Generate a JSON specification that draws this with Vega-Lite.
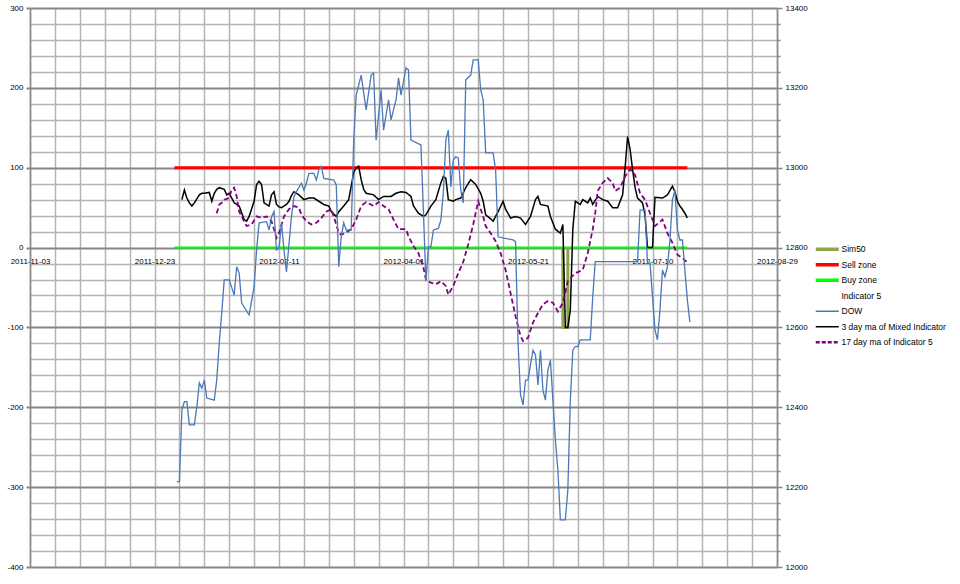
{
  "$schema": "https://vega.github.io/schema/vega-lite/v6.json",
  "width": 747,
  "height": 559,
  "autosize": "none",
  "padding": {"left": 30, "top": 8, "right": 183, "bottom": 17},
  "background": "white",
  "config": {
    "view": {"stroke": null},
    "font": "Liberation Sans",
    "axis": {"labelFont": "Liberation Sans", "labelFontSize": 8, "labelColor": "#000000"}
  },
  "datasets": {
    "zones": [
      {"series": "Sell zone", "date": "2011-12-31", "end": "2012-07-24", "value": 100},
      {"series": "Buy zone", "date": "2011-12-31", "end": "2012-07-24", "value": 0}
    ],
    "sim": [
      {"date": "2012-06-04", "value": 0},
      {"date": "2012-06-04", "value": -100},
      {"date": "2012-06-06", "value": -100},
      {"date": "2012-06-06", "value": 0}
    ],
    "dow": [
      {"date": "2012-01-01", "value": 12214}, {"date": "2012-01-02", "value": 12214}, {"date": "2012-01-03", "value": 12393},
      {"date": "2012-01-04", "value": 12414}, {"date": "2012-01-05", "value": 12414}, {"date": "2012-01-06", "value": 12356},
      {"date": "2012-01-08", "value": 12356}, {"date": "2012-01-09", "value": 12401}, {"date": "2012-01-10", "value": 12461},
      {"date": "2012-01-11", "value": 12448}, {"date": "2012-01-12", "value": 12468}, {"date": "2012-01-13", "value": 12423},
      {"date": "2012-01-16", "value": 12418}, {"date": "2012-01-17", "value": 12468}, {"date": "2012-01-18", "value": 12561},
      {"date": "2012-01-19", "value": 12636}, {"date": "2012-01-20", "value": 12719}, {"date": "2012-01-22", "value": 12719},
      {"date": "2012-01-24", "value": 12681}, {"date": "2012-01-25", "value": 12752}, {"date": "2012-01-26", "value": 12736},
      {"date": "2012-01-27", "value": 12661}, {"date": "2012-01-30", "value": 12631}, {"date": "2012-02-01", "value": 12702},
      {"date": "2012-02-02", "value": 12794}, {"date": "2012-02-03", "value": 12862}, {"date": "2012-02-06", "value": 12865},
      {"date": "2012-02-07", "value": 12844}, {"date": "2012-02-08", "value": 12877}, {"date": "2012-02-09", "value": 12890},
      {"date": "2012-02-10", "value": 12794}, {"date": "2012-02-11", "value": 12799}, {"date": "2012-02-12", "value": 12862},
      {"date": "2012-02-13", "value": 12794}, {"date": "2012-02-14", "value": 12739}, {"date": "2012-02-16", "value": 12877},
      {"date": "2012-02-17", "value": 12927}, {"date": "2012-02-18", "value": 12940}, {"date": "2012-02-20", "value": 12961},
      {"date": "2012-02-21", "value": 12944}, {"date": "2012-02-22", "value": 12961}, {"date": "2012-02-23", "value": 12986},
      {"date": "2012-02-25", "value": 12986}, {"date": "2012-02-26", "value": 12969}, {"date": "2012-02-27", "value": 12995},
      {"date": "2012-02-28", "value": 13003}, {"date": "2012-02-29", "value": 12973}, {"date": "2012-03-04", "value": 12969},
      {"date": "2012-03-05", "value": 12957}, {"date": "2012-03-06", "value": 12752}, {"date": "2012-03-07", "value": 12827},
      {"date": "2012-03-08", "value": 12862}, {"date": "2012-03-09", "value": 12844}, {"date": "2012-03-11", "value": 12844},
      {"date": "2012-03-12", "value": 13069}, {"date": "2012-03-13", "value": 13182}, {"date": "2012-03-15", "value": 13232},
      {"date": "2012-03-17", "value": 13145}, {"date": "2012-03-19", "value": 13232}, {"date": "2012-03-20", "value": 13237},
      {"date": "2012-03-21", "value": 13069}, {"date": "2012-03-23", "value": 13195}, {"date": "2012-03-24", "value": 13094},
      {"date": "2012-03-26", "value": 13170}, {"date": "2012-03-27", "value": 13120}, {"date": "2012-03-29", "value": 13170},
      {"date": "2012-03-30", "value": 13225}, {"date": "2012-03-31", "value": 13182}, {"date": "2012-04-02", "value": 13250},
      {"date": "2012-04-03", "value": 13245}, {"date": "2012-04-04", "value": 13069}, {"date": "2012-04-08", "value": 13057},
      {"date": "2012-04-09", "value": 12890}, {"date": "2012-04-10", "value": 12716}, {"date": "2012-04-11", "value": 12802},
      {"date": "2012-04-12", "value": 12802}, {"date": "2012-04-13", "value": 12844}, {"date": "2012-04-15", "value": 12848},
      {"date": "2012-04-16", "value": 12869}, {"date": "2012-04-17", "value": 12937}, {"date": "2012-04-18", "value": 13069},
      {"date": "2012-04-19", "value": 13094}, {"date": "2012-04-20", "value": 12952}, {"date": "2012-04-21", "value": 13020},
      {"date": "2012-04-22", "value": 13028}, {"date": "2012-04-23", "value": 13024}, {"date": "2012-04-24", "value": 12944},
      {"date": "2012-04-25", "value": 12912}, {"date": "2012-04-26", "value": 13220}, {"date": "2012-04-28", "value": 13232},
      {"date": "2012-04-29", "value": 13270}, {"date": "2012-05-01", "value": 13270}, {"date": "2012-05-02", "value": 13195},
      {"date": "2012-05-03", "value": 13170}, {"date": "2012-05-04", "value": 13037}, {"date": "2012-05-07", "value": 13037},
      {"date": "2012-05-08", "value": 12994}, {"date": "2012-05-09", "value": 12827}, {"date": "2012-05-15", "value": 12819},
      {"date": "2012-05-16", "value": 12815}, {"date": "2012-05-17", "value": 12561}, {"date": "2012-05-18", "value": 12431},
      {"date": "2012-05-19", "value": 12406}, {"date": "2012-05-20", "value": 12468}, {"date": "2012-05-21", "value": 12468},
      {"date": "2012-05-22", "value": 12506}, {"date": "2012-05-23", "value": 12543}, {"date": "2012-05-24", "value": 12531},
      {"date": "2012-05-25", "value": 12456}, {"date": "2012-05-26", "value": 12543}, {"date": "2012-05-27", "value": 12443},
      {"date": "2012-05-28", "value": 12418}, {"date": "2012-05-29", "value": 12493}, {"date": "2012-05-30", "value": 12518},
      {"date": "2012-05-31", "value": 12418}, {"date": "2012-06-01", "value": 12318}, {"date": "2012-06-02", "value": 12243},
      {"date": "2012-06-03", "value": 12118}, {"date": "2012-06-05", "value": 12118}, {"date": "2012-06-06", "value": 12193},
      {"date": "2012-06-07", "value": 12418}, {"date": "2012-06-08", "value": 12543}, {"date": "2012-06-09", "value": 12552},
      {"date": "2012-06-10", "value": 12552}, {"date": "2012-06-11", "value": 12569}, {"date": "2012-06-15", "value": 12569},
      {"date": "2012-06-16", "value": 12677}, {"date": "2012-06-17", "value": 12765}, {"date": "2012-07-04", "value": 12765},
      {"date": "2012-07-05", "value": 12894}, {"date": "2012-07-07", "value": 12894}, {"date": "2012-07-08", "value": 12761},
      {"date": "2012-07-09", "value": 12761}, {"date": "2012-07-10", "value": 12677}, {"date": "2012-07-11", "value": 12594},
      {"date": "2012-07-12", "value": 12569}, {"date": "2012-07-13", "value": 12644}, {"date": "2012-07-14", "value": 12744},
      {"date": "2012-07-15", "value": 12727}, {"date": "2012-07-16", "value": 12752}, {"date": "2012-07-17", "value": 12819},
      {"date": "2012-07-18", "value": 12919}, {"date": "2012-07-19", "value": 12944}, {"date": "2012-07-20", "value": 12844},
      {"date": "2012-07-21", "value": 12819}, {"date": "2012-07-22", "value": 12819}, {"date": "2012-07-23", "value": 12744},
      {"date": "2012-07-24", "value": 12669}, {"date": "2012-07-25", "value": 12614}
    ],
    "mix": [
      {"date": "2012-01-03", "value": 60}, {"date": "2012-01-04", "value": 72}, {"date": "2012-01-05", "value": 62},
      {"date": "2012-01-06", "value": 56}, {"date": "2012-01-07", "value": 52}, {"date": "2012-01-08", "value": 56},
      {"date": "2012-01-09", "value": 61}, {"date": "2012-01-10", "value": 66}, {"date": "2012-01-11", "value": 68},
      {"date": "2012-01-12", "value": 68}, {"date": "2012-01-14", "value": 69}, {"date": "2012-01-15", "value": 58},
      {"date": "2012-01-16", "value": 68}, {"date": "2012-01-17", "value": 73}, {"date": "2012-01-18", "value": 75},
      {"date": "2012-01-20", "value": 73}, {"date": "2012-01-21", "value": 66}, {"date": "2012-01-22", "value": 68},
      {"date": "2012-01-24", "value": 56}, {"date": "2012-01-25", "value": 54}, {"date": "2012-01-26", "value": 52},
      {"date": "2012-01-28", "value": 35}, {"date": "2012-01-29", "value": 33}, {"date": "2012-01-30", "value": 39},
      {"date": "2012-02-01", "value": 58}, {"date": "2012-02-02", "value": 79}, {"date": "2012-02-03", "value": 83},
      {"date": "2012-02-04", "value": 79}, {"date": "2012-02-05", "value": 56}, {"date": "2012-02-07", "value": 52},
      {"date": "2012-02-08", "value": 66}, {"date": "2012-02-09", "value": 70}, {"date": "2012-02-10", "value": 54},
      {"date": "2012-02-11", "value": 51}, {"date": "2012-02-12", "value": 50}, {"date": "2012-02-14", "value": 54},
      {"date": "2012-02-15", "value": 58}, {"date": "2012-02-16", "value": 65}, {"date": "2012-02-17", "value": 70},
      {"date": "2012-02-19", "value": 66}, {"date": "2012-02-21", "value": 60}, {"date": "2012-02-23", "value": 62},
      {"date": "2012-02-25", "value": 62}, {"date": "2012-02-27", "value": 58}, {"date": "2012-02-29", "value": 54},
      {"date": "2012-03-02", "value": 52}, {"date": "2012-03-03", "value": 45}, {"date": "2012-03-05", "value": 39},
      {"date": "2012-03-06", "value": 45}, {"date": "2012-03-08", "value": 52}, {"date": "2012-03-10", "value": 60},
      {"date": "2012-03-11", "value": 77}, {"date": "2012-03-12", "value": 94}, {"date": "2012-03-13", "value": 100},
      {"date": "2012-03-14", "value": 102}, {"date": "2012-03-15", "value": 85}, {"date": "2012-03-16", "value": 73},
      {"date": "2012-03-17", "value": 68}, {"date": "2012-03-20", "value": 66}, {"date": "2012-03-22", "value": 60},
      {"date": "2012-03-24", "value": 64}, {"date": "2012-03-27", "value": 64}, {"date": "2012-03-29", "value": 68},
      {"date": "2012-03-31", "value": 70}, {"date": "2012-04-02", "value": 69}, {"date": "2012-04-04", "value": 64},
      {"date": "2012-04-05", "value": 52}, {"date": "2012-04-07", "value": 43}, {"date": "2012-04-09", "value": 39},
      {"date": "2012-04-10", "value": 41}, {"date": "2012-04-12", "value": 52}, {"date": "2012-04-14", "value": 60},
      {"date": "2012-04-16", "value": 81}, {"date": "2012-04-17", "value": 89}, {"date": "2012-04-18", "value": 87},
      {"date": "2012-04-19", "value": 60}, {"date": "2012-04-21", "value": 58}, {"date": "2012-04-22", "value": 60},
      {"date": "2012-04-24", "value": 62}, {"date": "2012-04-26", "value": 75}, {"date": "2012-04-28", "value": 85},
      {"date": "2012-04-30", "value": 79}, {"date": "2012-05-02", "value": 68}, {"date": "2012-05-03", "value": 58},
      {"date": "2012-05-04", "value": 41}, {"date": "2012-05-06", "value": 36}, {"date": "2012-05-07", "value": 33},
      {"date": "2012-05-09", "value": 45}, {"date": "2012-05-11", "value": 58}, {"date": "2012-05-12", "value": 48},
      {"date": "2012-05-14", "value": 37}, {"date": "2012-05-16", "value": 39}, {"date": "2012-05-18", "value": 37},
      {"date": "2012-05-20", "value": 29}, {"date": "2012-05-22", "value": 39}, {"date": "2012-05-24", "value": 60},
      {"date": "2012-05-25", "value": 64}, {"date": "2012-05-26", "value": 54}, {"date": "2012-05-29", "value": 52},
      {"date": "2012-05-30", "value": 39}, {"date": "2012-06-01", "value": 23}, {"date": "2012-06-03", "value": 18},
      {"date": "2012-06-04", "value": 29}, {"date": "2012-06-05", "value": -100}, {"date": "2012-06-06", "value": -100},
      {"date": "2012-06-07", "value": -78}, {"date": "2012-06-08", "value": 23}, {"date": "2012-06-09", "value": 58},
      {"date": "2012-06-11", "value": 54}, {"date": "2012-06-12", "value": 60}, {"date": "2012-06-14", "value": 56},
      {"date": "2012-06-15", "value": 62}, {"date": "2012-06-16", "value": 54}, {"date": "2012-06-18", "value": 64},
      {"date": "2012-06-20", "value": 60}, {"date": "2012-06-22", "value": 58}, {"date": "2012-06-24", "value": 50},
      {"date": "2012-06-26", "value": 50}, {"date": "2012-06-28", "value": 66}, {"date": "2012-06-29", "value": 100},
      {"date": "2012-06-30", "value": 139}, {"date": "2012-07-01", "value": 123}, {"date": "2012-07-02", "value": 98},
      {"date": "2012-07-03", "value": 75}, {"date": "2012-07-04", "value": 62}, {"date": "2012-07-06", "value": 56},
      {"date": "2012-07-07", "value": 41}, {"date": "2012-07-08", "value": 0}, {"date": "2012-07-10", "value": 0},
      {"date": "2012-07-11", "value": 63}, {"date": "2012-07-14", "value": 62}, {"date": "2012-07-16", "value": 66},
      {"date": "2012-07-18", "value": 77}, {"date": "2012-07-19", "value": 70}, {"date": "2012-07-20", "value": 58},
      {"date": "2012-07-21", "value": 52}, {"date": "2012-07-22", "value": 48}, {"date": "2012-07-23", "value": 43},
      {"date": "2012-07-24", "value": 37}
    ],
    "ma17": [
      {"date": "2012-01-17", "value": 43}, {"date": "2012-01-18", "value": 54}, {"date": "2012-01-19", "value": 56},
      {"date": "2012-01-20", "value": 60}, {"date": "2012-01-22", "value": 62}, {"date": "2012-01-23", "value": 73},
      {"date": "2012-01-24", "value": 75}, {"date": "2012-01-25", "value": 64}, {"date": "2012-01-26", "value": 45},
      {"date": "2012-01-28", "value": 33}, {"date": "2012-01-29", "value": 27}, {"date": "2012-01-31", "value": 29},
      {"date": "2012-02-02", "value": 39}, {"date": "2012-02-04", "value": 37}, {"date": "2012-02-06", "value": 39},
      {"date": "2012-02-08", "value": 33}, {"date": "2012-02-09", "value": 23}, {"date": "2012-02-10", "value": 12},
      {"date": "2012-02-11", "value": 18}, {"date": "2012-02-13", "value": 39}, {"date": "2012-02-15", "value": 48},
      {"date": "2012-02-17", "value": 52}, {"date": "2012-02-19", "value": 50}, {"date": "2012-02-20", "value": 41},
      {"date": "2012-02-22", "value": 33}, {"date": "2012-02-24", "value": 29}, {"date": "2012-02-26", "value": 31},
      {"date": "2012-02-28", "value": 37}, {"date": "2012-03-01", "value": 45}, {"date": "2012-03-03", "value": 48},
      {"date": "2012-03-05", "value": 29}, {"date": "2012-03-06", "value": 18}, {"date": "2012-03-07", "value": 16},
      {"date": "2012-03-09", "value": 19}, {"date": "2012-03-11", "value": 23}, {"date": "2012-03-13", "value": 35},
      {"date": "2012-03-15", "value": 52}, {"date": "2012-03-17", "value": 57}, {"date": "2012-03-20", "value": 52},
      {"date": "2012-03-22", "value": 57}, {"date": "2012-03-24", "value": 52}, {"date": "2012-03-26", "value": 48},
      {"date": "2012-03-28", "value": 35}, {"date": "2012-03-30", "value": 23}, {"date": "2012-04-02", "value": 23},
      {"date": "2012-04-03", "value": 14}, {"date": "2012-04-05", "value": 2}, {"date": "2012-04-07", "value": -7},
      {"date": "2012-04-09", "value": -25}, {"date": "2012-04-10", "value": -40}, {"date": "2012-04-12", "value": -44},
      {"date": "2012-04-14", "value": -46}, {"date": "2012-04-16", "value": -42}, {"date": "2012-04-18", "value": -48},
      {"date": "2012-04-19", "value": -59}, {"date": "2012-04-21", "value": -48}, {"date": "2012-04-23", "value": -32},
      {"date": "2012-04-25", "value": -18}, {"date": "2012-04-27", "value": 4}, {"date": "2012-04-29", "value": 29},
      {"date": "2012-05-01", "value": 58}, {"date": "2012-05-02", "value": 48}, {"date": "2012-05-03", "value": 39},
      {"date": "2012-05-04", "value": 27}, {"date": "2012-05-06", "value": 18}, {"date": "2012-05-08", "value": 8},
      {"date": "2012-05-10", "value": -7}, {"date": "2012-05-12", "value": -28}, {"date": "2012-05-14", "value": -57},
      {"date": "2012-05-16", "value": -86}, {"date": "2012-05-18", "value": -111}, {"date": "2012-05-19", "value": -117},
      {"date": "2012-05-21", "value": -113}, {"date": "2012-05-23", "value": -94}, {"date": "2012-05-25", "value": -82},
      {"date": "2012-05-27", "value": -71}, {"date": "2012-05-29", "value": -67}, {"date": "2012-05-31", "value": -69},
      {"date": "2012-06-02", "value": -80}, {"date": "2012-06-04", "value": -69}, {"date": "2012-06-06", "value": -42},
      {"date": "2012-06-09", "value": -32}, {"date": "2012-06-12", "value": -28}, {"date": "2012-06-14", "value": -7},
      {"date": "2012-06-16", "value": 23}, {"date": "2012-06-17", "value": 43}, {"date": "2012-06-18", "value": 71},
      {"date": "2012-06-20", "value": 81}, {"date": "2012-06-22", "value": 87}, {"date": "2012-06-24", "value": 81},
      {"date": "2012-06-25", "value": 71}, {"date": "2012-06-27", "value": 75}, {"date": "2012-06-29", "value": 89},
      {"date": "2012-07-01", "value": 98}, {"date": "2012-07-03", "value": 91}, {"date": "2012-07-05", "value": 68},
      {"date": "2012-07-07", "value": 60}, {"date": "2012-07-09", "value": 43}, {"date": "2012-07-11", "value": 27},
      {"date": "2012-07-14", "value": 35}, {"date": "2012-07-16", "value": 18}, {"date": "2012-07-18", "value": 6},
      {"date": "2012-07-20", "value": -9}, {"date": "2012-07-22", "value": -13}, {"date": "2012-07-24", "value": -19}
    ]
  },
  "encoding": {
    "x": {
      "field": "date", "type": "temporal",
      "scale": {"type": "utc", "domain": [{"year": 2011, "month": 11, "date": 3, "utc": true}, {"year": 2012, "month": 8, "date": 29, "utc": true}], "nice": false},
      "axis": {
        "orient": "bottom", "offset": -319, "title": null,
        "values": [1320278400000, 1321142400000, 1322006400000, 1322870400000, 1323734400000, 1324598400000, 1325462400000, 1326326400000, 1327190400000, 1328054400000, 1328918400000, 1329782400000, 1330646400000, 1331510400000, 1332374400000, 1333238400000, 1334102400000, 1334966400000, 1335830400000, 1336694400000, 1337558400000, 1338422400000, 1339286400000, 1340150400000, 1341014400000, 1341878400000, 1342742400000, 1343606400000, 1344470400000, 1345334400000, 1346198400000],
        "labelExpr": "(datum.value - 1320278400000) % 4320000000 === 0 ? utcFormat(datum.value, '%Y-%m-%d') : ''",
        "grid": true, "gridColor": "#b4b4b4", "gridWidth": 1.5,
        "ticks": false, "domain": false,
        "labelPadding": 9, "labelOverlap": false, "labelFlush": false, "labelBound": false
      }
    }
  },
  "layer": [
    {
      "encoding": {
        "y": {
          "field": "value", "type": "quantitative",
          "scale": {"domain": [-400, 300], "nice": false, "zero": false},
          "axis": {
            "orient": "left", "title": null,
            "values": [-400, -380, -360, -340, -320, -300, -280, -260, -240, -220, -200, -180, -160, -140, -120, -100, -80, -60, -40, -20, 0, 20, 40, 60, 80, 100, 120, 140, 160, 180, 200, 220, 240, 260, 280, 300],
            "labelExpr": "datum.value % 100 === 0 ? '' + datum.value : ''",
            "grid": true,
            "gridColor": {"condition": {"test": "datum.value % 100 === 0", "value": "#868686"}, "value": "#b4b4b4"},
            "gridWidth": {"condition": {"test": "datum.value % 100 === 0", "value": 2}, "value": 1.5},
            "tickColor": "#868686",
            "tickWidth": 2,
            "tickSize": {"condition": {"test": "datum.value % 100 === 0", "value": 4}, "value": 0},
            "domainColor": "#868686", "domainWidth": 1.5,
            "labelPadding": 3, "labelOverlap": false
          }
        }
      },
      "layer": [
        {
          "data": {"name": "zones"},
          "mark": {"type": "rule"},
          "encoding": {
            "x2": {"field": "end"},
            "color": {
              "field": "series", "type": "nominal",
              "scale": {
                "domain": ["Sim50", "Sell zone", "Buy zone", "Indicator 5", "DOW", "3 day ma of Mixed Indicator", "17 day ma of Indicator 5"],
                "range": ["#8ca44a", "#ff0000", "#00ff00", "rgba(0,0,0,0)", "#4a78b8", "#000000", "#800080"]
              },
              "legend": {
                "orient": "none", "legendX": 793, "legendY": 237, "title": null,
                "symbolType": "stroke", "symbolSize": 530, "symbolStrokeWidth": 2,
                "labelFont": "Liberation Sans", "labelFontSize": 8.5, "labelColor": "#000000",
                "rowPadding": 0.5, "gridAlign": "all", "labelOffset": 10, "padding": 0,
                "encode": {
                  "symbols": {
                    "update": {
                      "strokeWidth": {"signal": "indexof(['Sim50','Sell zone','Buy zone'], datum.value) >= 0 ? 3.5 : datum.value === '17 day ma of Indicator 5' ? 2.5 : 1.3"},
                      "strokeDash": {"signal": "datum.value === '17 day ma of Indicator 5' ? [4, 2] : [1, 0]"}
                    }
                  }
                }
              }
            },
            "strokeWidth": {"condition": {"test": "datum.series === 'Sell zone'", "value": 3}, "value": 2}
          }
        },
        {
          "data": {"name": "sim"},
          "mark": {"type": "line", "strokeWidth": 3},
          "encoding": {"color": {"datum": "Sim50"}}
        },
        {
          "data": {"name": "mix"},
          "mark": {"type": "line", "strokeWidth": 1.5},
          "encoding": {"color": {"datum": "3 day ma of Mixed Indicator"}}
        },
        {
          "data": {"name": "ma17"},
          "mark": {"type": "line", "strokeWidth": 1.8, "strokeDash": [5, 3]},
          "encoding": {"color": {"datum": "17 day ma of Indicator 5"}}
        }
      ]
    },
    {
      "data": {"name": "dow"},
      "mark": {"type": "line", "strokeWidth": 1.3},
      "encoding": {
        "y": {
          "field": "value", "type": "quantitative",
          "scale": {"domain": [12000, 13400], "nice": false, "zero": false},
          "axis": {
            "orient": "right", "title": null,
            "values": [12000, 12040, 12080, 12120, 12160, 12200, 12240, 12280, 12320, 12360, 12400, 12440, 12480, 12520, 12560, 12600, 12640, 12680, 12720, 12760, 12800, 12840, 12880, 12920, 12960, 13000, 13040, 13080, 13120, 13160, 13200, 13240, 13280, 13320, 13360, 13400],
            "labelExpr": "datum.value % 200 === 0 ? '' + datum.value : ''",
            "grid": false,
            "tickColor": "#868686", "tickWidth": 1.5,
            "tickSize": {"condition": {"test": "datum.value % 200 === 0", "value": 5}, "value": 3},
            "domainColor": "#868686", "domainWidth": 1.5,
            "labelPadding": 3, "labelOverlap": false
          }
        },
        "color": {"datum": "DOW"}
      }
    }
  ],
  "resolve": {"scale": {"y": "independent"}}
}
